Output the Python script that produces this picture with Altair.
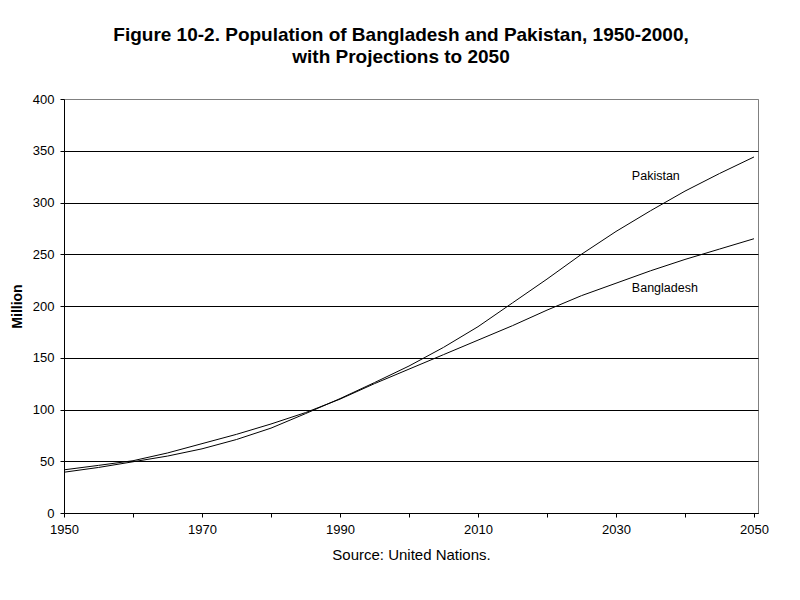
import altair as alt
import pandas as pd

FONT = "Liberation Sans"

years = [1950, 1955, 1960, 1965, 1970, 1975, 1980, 1985, 1990, 1995, 2000,
         2005, 2010, 2015, 2020, 2025, 2030, 2035, 2040, 2045, 2050]
bangladesh = [41.7, 46.0, 50.5, 58.0, 67.0, 76.0, 86.0, 97.0, 110.0, 125.0, 139.0,
              153.0, 167.0, 181.0, 196.0, 210.0, 222.0, 234.0, 245.0, 255.0, 265.0]
pakistan = [39.4, 44.0, 49.5, 55.0, 62.0, 71.0, 82.0, 96.0, 110.5, 126.0, 142.0,
            160.0, 180.0, 203.0, 226.0, 250.0, 272.0, 292.0, 311.0, 328.0, 344.0]

label_names = ["Pakistan", "Bangladesh"]
label_years = [2032.3, 2032.3]
label_values = [322.0, 214.0]

y_ticks = [0, 50, 100, 150, 200, 250, 300, 350, 400]
x_ticks = [1950, 1960, 1970, 1980, 1990, 2000, 2010, 2020, 2030, 2040, 2050]

df = pd.concat([
    pd.DataFrame({"year": years, "value": bangladesh, "series": "Bangladesh"}),
    pd.DataFrame({"year": years, "value": pakistan, "series": "Pakistan"}),
])
labels = pd.DataFrame({"name": label_names, "year": label_years, "value": label_values})

x_scale = alt.Scale(domain=[1950, 2050.58], nice=False, zero=False)
y_scale = alt.Scale(domain=[0, 400], nice=False)

x_enc = alt.X(
    "year:Q", scale=x_scale,
    axis=alt.Axis(
        values=x_ticks, format="d",
        labelExpr="(datum.value - 1950) % 20 == 0 ? datum.label : ''",
        labelOverlap=False, labelFlush=False,
        title="Source: United Nations.", titleFontWeight="normal", titleFontSize=15,
        titlePadding=11, grid=False, tickSize=4, labelPadding=6,
        labelFontSize=13, labelFont=FONT, titleFont=FONT,
        domainColor="black", tickColor="black", labelColor="black", titleColor="black",
    ),
)
y_enc = alt.Y(
    "value:Q", scale=y_scale,
    axis=alt.Axis(
        values=y_ticks, title="Million", titleFontWeight="bold", titleFontSize=14,
        titlePadding=8, tickSize=4, labelPadding=6, labelFontSize=13,
        labelFont=FONT, titleFont=FONT,
        grid=True,
        gridColor={"condition": {"test": "datum.value >= 400", "value": "#808080"}, "value": "black"},
        gridWidth=1,
        domainColor="black", tickColor="black", labelColor="black", titleColor="black",
    ),
)

lines = alt.Chart(df).mark_line(color="black", strokeWidth=1).encode(
    x=x_enc, y=y_enc, detail="series:N"
)

texts = alt.Chart(labels).mark_text(
    align="left", baseline="alphabetic", fontSize=12.5, font=FONT, color="black"
).encode(
    x=alt.X("year:Q", scale=x_scale),
    y=alt.Y("value:Q", scale=y_scale),
    text="name:N",
)

chart = alt.layer(lines, texts).properties(
    width=694,
    height=414,
    title=alt.TitleParams(
        ["Figure 10-2. Population of Bangladesh and Pakistan, 1950-2000,",
         "with Projections to 2050"],
        fontSize=19, fontWeight="bold", font=FONT, color="black",
        lineHeight=22, anchor="middle", dx=-10, offset=26,
    ),
    autosize=alt.AutoSizeParams(type="none"),
    padding={"left": 64, "top": 99, "right": 42, "bottom": 87},
    background="white",
).configure_view(
    stroke="#808080", strokeWidth=1
)

chart.save("out.html", embed_options={"renderer": "svg", "actions": False})
